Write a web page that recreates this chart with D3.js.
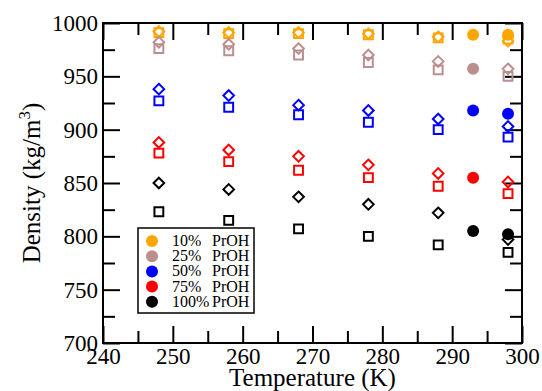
<!DOCTYPE html>
<html>
<head>
<meta charset="utf-8">
<script src="https://cdn.jsdelivr.net/npm/d3@7"></script>
<style>
  body { margin: 0; background: #fff; }
</style>
</head>
<body>
<svg id="chart" width="542" height="391"></svg>
<script>
// temperatures (K) of the open symbols
var temps = [248, 258, 268, 278, 288, 298];
// temperatures of the filled circles
var circleTemps = [293, 298];

var seriesNames = ['10%', '25%', '50%', '75%', '100%'];
var seriesColors = ['#ffa500', '#bc8f8f', '#0000ff', '#ff0000', '#000000'];

// diamonds
var diamond10 = [992, 991, 991, 990, 987, 983];
var diamond25 = [982, 980, 976, 970, 964, 957];
var diamond50 = [938, 932, 923, 918, 910, 903];
var diamond75 = [888, 881, 875, 867, 859, 851];
var diamond100 = [850, 844, 837, 830, 822, 797];

// squares
var square10 = [991, 990, 990, 989, 986, 985];
var square25 = [976, 974, 970, 963, 956, 950];
var square50 = [927, 921, 914, 907, 900, 893];
var square75 = [878, 870, 862, 855, 847, 840];
var square100 = [823, 815, 807, 800, 792, 785];

// filled circles (null = not shown)
var circle10 = [989, 989];
var circle25 = [957, null];
var circle50 = [918, 915];
var circle75 = [855, null];
var circle100 = [805, 802];

var xTicks = [240, 250, 260, 270, 280, 290, 300];
var yTicks = [700, 750, 800, 850, 900, 950, 1000];

var diamonds = [diamond10, diamond25, diamond50, diamond75, diamond100];
var squares = [square10, square25, square50, square75, square100];
var circles = [circle10, circle25, circle50, circle75, circle100];

var serif = '"Liberation Serif", "Times New Roman", serif';

var svg = d3.select('#chart').style('font-family', serif);
var margin = {left: 103, right: 20, top: 23, bottom: 48};
var W = 542, H = 391;

var x = d3.scaleLinear().domain([240, 300]).range([margin.left, W - margin.right]);
var y = d3.scaleLinear().domain([700, 1000]).range([H - margin.bottom, margin.top]);

var minorX = d3.range(245, 300, 10);
var minorY = d3.range(725, 1000, 50);

function styleAxis(g) {
  g.attr('font-family', serif).attr('font-size', 23);
  g.select('.domain').remove();
  g.selectAll('line').attr('stroke', '#000').attr('stroke-width', 2);
  g.selectAll('text').attr('fill', '#000');
}

// bottom axis, inward ticks
svg.append('g').attr('transform', 'translate(0,' + y(700) + ')')
  .call(d3.axisBottom(x).tickValues(xTicks).tickSize(-17).tickPadding(5).tickFormat(d3.format('d')))
  .call(styleAxis);
svg.append('g').attr('transform', 'translate(0,' + y(700) + ')')
  .call(d3.axisBottom(x).tickValues(minorX).tickSize(-12).tickFormat(''))
  .call(styleAxis);
// top axis
svg.append('g').attr('transform', 'translate(0,' + y(1000) + ')')
  .call(d3.axisTop(x).tickValues(xTicks).tickSize(-17).tickFormat(''))
  .call(styleAxis);
svg.append('g').attr('transform', 'translate(0,' + y(1000) + ')')
  .call(d3.axisTop(x).tickValues(minorX).tickSize(-12).tickFormat(''))
  .call(styleAxis);
// left axis
svg.append('g').attr('transform', 'translate(' + x(240) + ',0)')
  .call(d3.axisLeft(y).tickValues(yTicks).tickSize(-17).tickPadding(5).tickFormat(d3.format('d')))
  .call(styleAxis);
svg.append('g').attr('transform', 'translate(' + x(240) + ',0)')
  .call(d3.axisLeft(y).tickValues(minorY).tickSize(-12).tickFormat(''))
  .call(styleAxis);
// right axis
svg.append('g').attr('transform', 'translate(' + x(300) + ',0)')
  .call(d3.axisRight(y).tickValues(yTicks).tickSize(-17).tickFormat(''))
  .call(styleAxis);
svg.append('g').attr('transform', 'translate(' + x(300) + ',0)')
  .call(d3.axisRight(y).tickValues(minorY).tickSize(-12).tickFormat(''))
  .call(styleAxis);

// frame
svg.append('rect')
  .attr('x', x(240)).attr('y', y(1000))
  .attr('width', x(300) - x(240)).attr('height', y(700) - y(1000))
  .attr('fill', 'none').attr('stroke', '#000').attr('stroke-width', 2);

// axis titles
svg.append('text')
  .attr('x', (x(240) + x(300)) / 2).attr('y', 386)
  .attr('text-anchor', 'middle').attr('font-size', 25)
  .text('Temperature (K)');

var yl = svg.append('text')
  .attr('transform', 'translate(40,' + ((y(700) + y(1000)) / 2) + ') rotate(-90)')
  .attr('text-anchor', 'middle').attr('font-size', 25);
yl.append('tspan').text('Density (kg/m');
yl.append('tspan').attr('font-size', 17).attr('dy', -10).text('3');
yl.append('tspan').attr('dy', 10).text(')');

var diamondSym = d3.symbol().type(d3.symbolDiamond2).size(72);
var squareSym = d3.symbol().type(d3.symbolSquare2).size(100);

var marks = svg.append('g');

seriesNames.forEach(function(name, i) {
  var col = seriesColors[i];
  marks.selectAll(null).data(temps.map(function(t, j) { return [t, squares[i][j]]; }))
    .enter().append('path')
    .attr('d', squareSym)
    .attr('transform', function(d) { return 'translate(' + x(d[0]) + ',' + y(d[1]) + ')'; })
    .attr('fill', 'none').attr('stroke', col).attr('stroke-width', 2);
  marks.selectAll(null).data(temps.map(function(t, j) { return [t, diamonds[i][j]]; }))
    .enter().append('path')
    .attr('d', diamondSym)
    .attr('transform', function(d) { return 'translate(' + x(d[0]) + ',' + y(d[1]) + ')'; })
    .attr('fill', 'none').attr('stroke', col).attr('stroke-width', 2);
});

seriesNames.forEach(function(name, i) {
  var pts = circleTemps.map(function(t, j) { return [t, circles[i][j]]; })
    .filter(function(d) { return d[1] != null; });
  marks.selectAll(null).data(pts)
    .enter().append('circle')
    .attr('cx', function(d) { return x(d[0]); })
    .attr('cy', function(d) { return y(d[1]); })
    .attr('r', 6)
    .attr('fill', seriesColors[i]);
});

// legend
var lg = svg.append('g').attr('transform', 'translate(138,228)');
lg.append('rect').attr('width', 116).attr('height', 85)
  .attr('fill', '#fff').attr('stroke', '#000').attr('stroke-width', 1.5);
seriesNames.forEach(function(name, i) {
  var ry = 13 + i * 15.2;
  lg.append('circle').attr('cx', 14).attr('cy', ry).attr('r', 6).attr('fill', seriesColors[i]);
  lg.append('text').attr('x', 34).attr('y', ry + 5).attr('font-size', 16).text(name);
  lg.append('text').attr('x', 74).attr('y', ry + 5).attr('font-size', 16).text('PrOH');
});
</script>
</body>
</html>
